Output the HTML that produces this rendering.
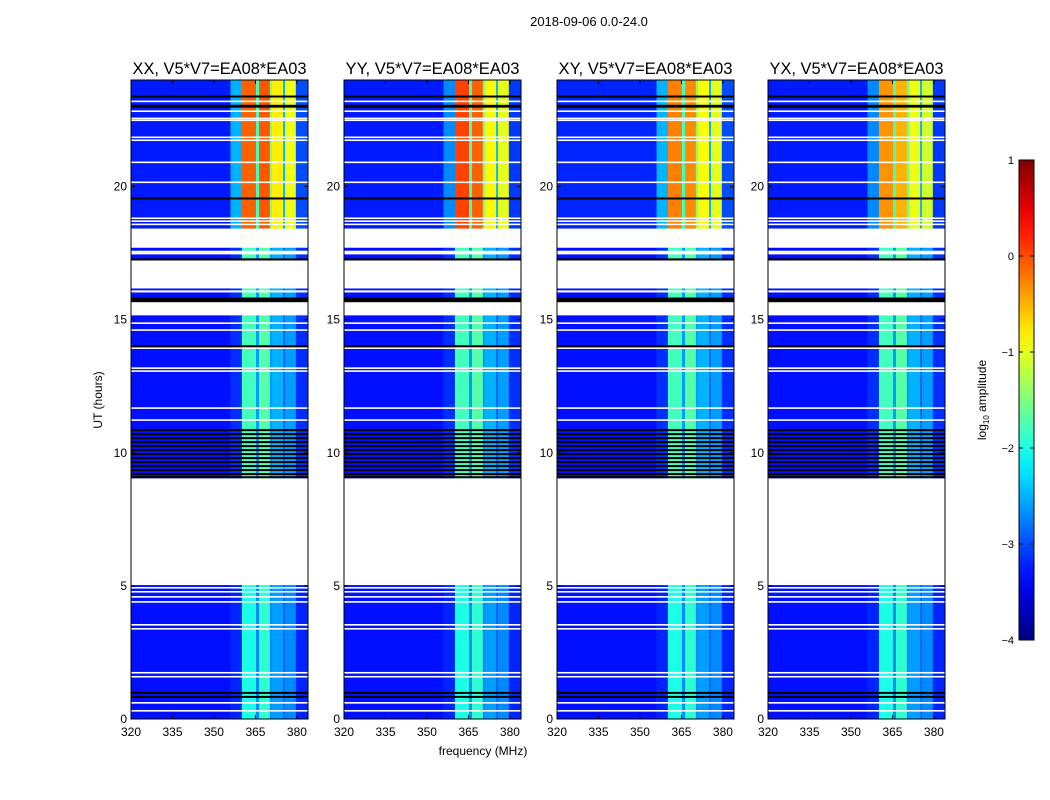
<!DOCTYPE html>
<html><head><meta charset="utf-8"><style>
html,body{margin:0;padding:0;background:#fff;width:1050px;height:800px;overflow:hidden}
svg{font-family:"Liberation Sans",sans-serif}
</style></head><body>
<svg id="chart" width="1050" height="800"></svg>
<script>
// ---- data ----
const panelTitles = ["XX, V5*V7=EA08*EA03","YY, V5*V7=EA08*EA03","XY, V5*V7=EA08*EA03","YX, V5*V7=EA08*EA03"];
const freqEdges = [320, 356, 360.1, 365.2, 366.3, 370.2, 371, 375, 375.7, 379.6, 384];
const topLevelsXX = [-3.25, -2.5, -0.1, -1.8, -0.05, -1.5, -0.8, -2.5, -0.95, -3.0];
const topLevelsYY = [-3.25, -2.7, 0.05, -1.8, -0.1, -1.5, -0.85, -2.5, -1.0, -3.1];
const topLevelsXY = [-3.2, -2.5, -0.25, -1.8, -0.3, -1.5, -0.9, -2.5, -1.0, -3.0];
const topLevelsYX = [-3.25, -2.7, -0.35, -1.8, -0.5, -1.6, -0.95, -2.5, -1.1, -3.1];
const midLevels = [-3.3, -3.15, -1.8, -2.6, -1.7, -2.6, -2.5, -2.9, -2.6, -3.15];
const botLevels = [-3.3, -3.2, -2.0, -2.7, -1.9, -2.7, -2.6, -2.9, -2.7, -3.2];
// segments: [startHour, endHour, kind]
const segments = [
 [18.42,24,"top"],[17.7,18.42,"white"],[17.6,17.7,"mid"],[17.45,17.56,"white"],
 [17.3,17.45,"mid"],[17.22,17.3,"black"],[17.03,17.22,"white"],[16.17,17.03,"white"],
 [16.1,16.17,"mid"],[16.02,16.1,"white"],[15.83,16.02,"mid"],[15.65,15.83,"black"],
 [15.16,15.65,"white"],[10.92,15.16,"mid"],[9.04,10.92,"mid"],[5.03,9.04,"white"],[0,5.03,"bot"]
];
const whiteLines = [23.19,22.82,22.55,22.48,21.84,21.73,20.9,20.15,18.8,18.69,18.57,
 14.86,14.6,13.92,13.17,13.06,11.67,11.22,4.92,4.77,4.58,4.39,3.53,3.38,1.73,1.58,0.6,0.3];
const blackLines = [23.38,23.03,23.0,19.55,14.0,10.85,10.7,10.55,10.4,10.25,10.1,9.95,9.8,9.65,9.5,9.35,9.2,9.08,0.98,0.83];
const yTicks = [0,5,10,15,20];
const xTicks = [320,335,350,365,380];
const cbTicks = [1,0,-1,-2,-3,-4];

// ---- layout ----
const NS="http://www.w3.org/2000/svg";
const svg=document.getElementById('chart');
const panelLeft=[131,344,557,768], panelW=177, pTop=80, pBot=719;
const yOf=h=>pBot-(h/24)*(pBot-pTop);
function jet(v){
  let t=(v+4)/5; t=Math.max(0,Math.min(1,t));
  const c=x=>Math.round(255*Math.max(0,Math.min(1,x)));
  return `rgb(${c(1.5-Math.abs(4*t-3))},${c(1.5-Math.abs(4*t-2))},${c(1.5-Math.abs(4*t-1))})`;
}
function el(tag,attrs,parent){const e=document.createElementNS(NS,tag);for(const k in attrs)e.setAttribute(k,attrs[k]);(parent||svg).appendChild(e);return e;}
function txt(s,attrs,parent){const e=el('text',attrs,parent);e.textContent=s;return e;}

const t0=txt("2018-09-06 0.0-24.0",{x:589,y:26,'font-size':13,'text-anchor':'middle'});



const topSets=[topLevelsXX,topLevelsYY,topLevelsXY,topLevelsYX];
panelLeft.forEach((px,pi)=>{
  const xOf=f=>px+(f-320)/(384-320)*panelW;
  const g=el('g',{});
  
  
  segments.forEach(s=>{
    const y1=yOf(s[1]), y2=yOf(s[0]);
    if(s[2]==="white"||s[2]==="black"){
      const r=el('rect',{x:px,y:y1,width:panelW,height:y2-y1,fill:s[2]==="white"?"#fff":"#000"},g);
      
      
      return;
    }
    const lv=s[2]==="top"?topSets[pi]:(s[2]==="mid"?midLevels:botLevels);
    for(let i=0;i<freqEdges.length-1;i++){
      const r=el('rect',{x:xOf(freqEdges[i]),y:y1,width:xOf(freqEdges[i+1])-xOf(freqEdges[i])+0.3,height:y2-y1+0.3,fill:jet(lv[i])},g);
      
      
    }
  });
  whiteLines.forEach(h=>{const r=el('rect',{x:px,y:yOf(h)-1,width:panelW,height:1.6,fill:'#fff'},g);
    });
  blackLines.forEach(h=>{const r=el('rect',{x:px,y:yOf(h)-1,width:panelW,height:2,fill:'#000'},g);
    });
  const fr=el('rect',{x:px,y:pTop,width:panelW,height:pBot-pTop,fill:'none',stroke:'#000','stroke-width':1},g);
  
  const tt=txt(panelTitles[pi],{x:px+panelW/2,y:74,'font-size':16.5,'text-anchor':'middle',textLength:174,lengthAdjust:'spacingAndGlyphs'},g);
  
  yTicks.forEach(h=>{
    const y=yOf(h);
    el('line',{x1:px,x2:px+4,y1:y,y2:y,stroke:'#000'},g);
    el('line',{x1:px+panelW-4,x2:px+panelW,y1:y,y2:y,stroke:'#000'},g);
    const l=txt(String(h),{x:px-4,y:y+4,'font-size':12,'text-anchor':'end'},g);
    
  });
  xTicks.forEach(f=>{
    const x=xOf(f);
    el('line',{x1:x,x2:x,y1:pBot,y2:pBot-4,stroke:'#000'},g);
    el('line',{x1:x,x2:x,y1:pTop,y2:pTop+4,stroke:'#000'},g);
    const l=txt(String(f),{x:x,y:736,'font-size':12,'text-anchor':'middle'},g);
    
  });
});
const yl=txt("UT (hours)",{x:0,y:0,'font-size':12,'text-anchor':'middle',transform:'translate(102,400) rotate(-90)'});

const xl=txt("frequency (MHz)",{x:483,y:755,'font-size':12,'text-anchor':'middle'});


// colorbar
const defs=el('defs',{});
const lg=el('linearGradient',{id:'jetg',x1:0,y1:1,x2:0,y2:0},defs);
for(let i=0;i<=20;i++){el('stop',{offset:(i/20),'stop-color':jet(-4+5*i/20)},lg);}
const cbTop=160,cbBot=640,cbX=1019,cbW=15;
const cb=el('rect',{x:cbX,y:cbTop,width:cbW,height:cbBot-cbTop,fill:'url(#jetg)',stroke:'#000','stroke-width':1});

cbTicks.forEach(v=>{
  const y=cbBot-(v+4)/5*(cbBot-cbTop);
  el('line',{x1:cbX,x2:cbX+4,y1:y,y2:y,stroke:'#000'});
  el('line',{x1:cbX+cbW-4,x2:cbX+cbW,y1:y,y2:y,stroke:'#000'});
  const l=txt(v<0?"\u2212"+(-v):String(v),{x:cbX-5,y:y+4,'font-size':11,'text-anchor':'end'});
  
});
const cl=el('text',{x:0,y:0,'font-size':12,'text-anchor':'middle',transform:'translate(986,400) rotate(-90)'});
cl.innerHTML='log<tspan font-size="8" dy="3">10</tspan><tspan dy="-3"> amplitude</tspan>';


</script>
</body></html>
